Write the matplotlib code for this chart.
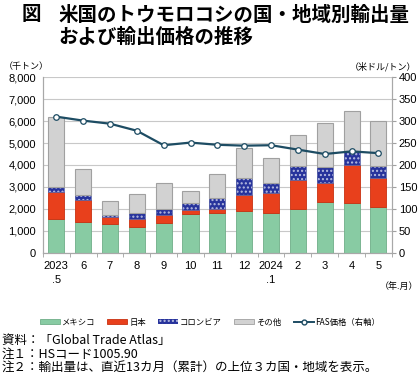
import numpy as np
import matplotlib.pyplot as plt
from matplotlib.patches import Patch
from matplotlib.lines import Line2D

plt.rcParams['font.family'] = ['Noto Sans CJK JP', 'DejaVu Sans']
plt.rcParams['hatch.linewidth'] = 1.0

# データ（千トン、米ドル/トン）
months = ['2023\n.5', '6', '7', '8', '9', '10', '11', '12', '2024\n.1', '2', '3', '4', '5']
mexico = [1545, 1424, 1303, 1197, 1348, 1758, 1803, 1924, 1803, 2000, 2318, 2273, 2076]
japan = [1228, 985, 333, 333, 364, 212, 212, 728, 924, 1333, 864, 1727, 1348]
colombia = [227, 227, 76, 288, 303, 303, 470, 772, 470, 606, 742, 621, 546]
others = [3167, 1182, 652, 864, 1152, 530, 1106, 1334, 1121, 1440, 1985, 1818, 2015]
fas_price = [310, 301, 294, 278, 245, 251, 246, 244, 245, 235, 225, 231, 227]

c_mex = '#88cba3'
c_jpn = '#e8401c'
c_col = '#27339c'
c_oth = '#d2d2d2'
c_line = '#1d4c63'

fig = plt.figure(figsize=(4.2, 3.78), dpi=100)
ax = fig.add_axes([0.102, 0.331, 0.831, 0.465])

x = np.arange(len(months))
w = 0.6
b1 = np.array(mexico)
b2 = b1 + np.array(japan)
b3 = b2 + np.array(colombia)

ax.bar(x, mexico, w, color=c_mex, edgecolor='#6fae88', linewidth=0.6, zorder=2)
ax.bar(x, japan, w, bottom=b1, color=c_jpn, edgecolor='#c83010', linewidth=0.6, zorder=2)
ax.bar(x, colombia, w, bottom=b2, color=c_col, edgecolor='#b8bde0', hatch='....', linewidth=0, zorder=2)
ax.bar(x, colombia, w, bottom=b2, fill=False, edgecolor='#5a64a8', linewidth=0.6, zorder=2)
ax.bar(x, others, w, bottom=b3, color=c_oth, edgecolor='#a0a0a0', linewidth=0.8, zorder=2)

ax.set_ylim(0, 8000)
ax.set_xlim(-0.5, len(months) - 0.5)
ax.set_yticks(np.arange(0, 8001, 1000))
ax.set_yticklabels([f'{v:,}' for v in range(0, 8001, 1000)], fontsize=8, family='Liberation Sans')
ax.yaxis.grid(True, color='#c8c8c8', linewidth=0.8, zorder=0)
ax.set_axisbelow(True)
ax.tick_params(axis='y', length=0, pad=5)
ax.set_xticks(x)
ax.set_xticklabels(months, fontsize=8, family='Liberation Sans', linespacing=1.5, va='top')
ax.set_xticks(np.arange(-0.5, len(months), 1), minor=True)
ax.tick_params(axis='x', which='major', length=0, pad=6)
ax.tick_params(axis='x', which='minor', length=3, color='#a0a0a0', direction='out')
ax.spines['top'].set_visible(False)
for s in ['left', 'right', 'bottom']:
    ax.spines[s].set_color('#a8a8a8')

ax2 = ax.twinx()
ax2.plot(x, fas_price, color=c_line, linewidth=1.6, marker='o', markersize=4,
         markerfacecolor='white', markeredgecolor=c_line, markeredgewidth=0.9, zorder=5)
ax2.set_ylim(0, 400)
ax2.set_yticks(np.arange(0, 401, 50))
ax2.set_yticklabels([str(v) for v in range(0, 401, 50)], fontsize=8, family='Liberation Sans')
ax2.tick_params(axis='y', length=3, color='#a0a0a0', pad=2)
ax2.spines['top'].set_visible(False)
for s in ['left', 'right', 'bottom']:
    ax2.spines[s].set_color('#a8a8a8')

# タイトル
fig.text(22 / 420, 1 - 15 / 378, '図', fontsize=14, fontweight='bold', va='center', ha='left')
fig.text(58 / 420, 1 - 15 / 378, '米国のトウモロコシの国・地域別輸出量', fontsize=14,
         fontweight='bold', va='center', ha='left')
fig.text(58 / 420, 1 - 37 / 378, 'および輸出価格の推移', fontsize=14,
         fontweight='bold', va='center', ha='left')

fig.text(4 / 420, 1 - 67 / 378, '（千トン）', fontsize=6.5, va='center', ha='left')
fig.text(416 / 420, 1 - 67 / 378, '（米ドル/トン）', fontsize=6.5, va='center', ha='right')
fig.text(418 / 420, 1 - 286 / 378, '（年.月）', fontsize=6.5, va='center', ha='right')

handles = [Patch(facecolor=c_mex, edgecolor='#6fae88', linewidth=0.6),
           Patch(facecolor=c_jpn, edgecolor='#c83010', linewidth=0.6),
           Patch(facecolor=c_col, edgecolor='#b8bde0', hatch='....', linewidth=0),
           Patch(facecolor=c_oth, edgecolor='#a0a0a0', linewidth=0.6),
           Line2D([0], [0], color=c_line, linewidth=1.4, marker='o', markersize=3.5,
                  markerfacecolor='white', markeredgecolor=c_line)]
labels = ['メキシコ', '日本', 'コロンビア', 'その他', 'FAS価格（右軸）']
fig.legend(handles, labels, loc='center', bbox_to_anchor=(0.5, 1 - 322 / 378), ncol=5,
           frameon=False, fontsize=6, handlelength=2.4, handleheight=0.6,
           handletextpad=0.2, columnspacing=1.5)

notes = ['資料：「Global Trade Atlas」',
         '注１：HSコード1005.90',
         '注２：輸出量は、直近13カ月（累計）の上位３カ国・地域を表示。']
for i, t in enumerate(notes):
    fig.text(2 / 420, 1 - (340 + i * 14) / 378, t, fontsize=9, va='center', ha='left')

fig.savefig('out.png', dpi=100)
